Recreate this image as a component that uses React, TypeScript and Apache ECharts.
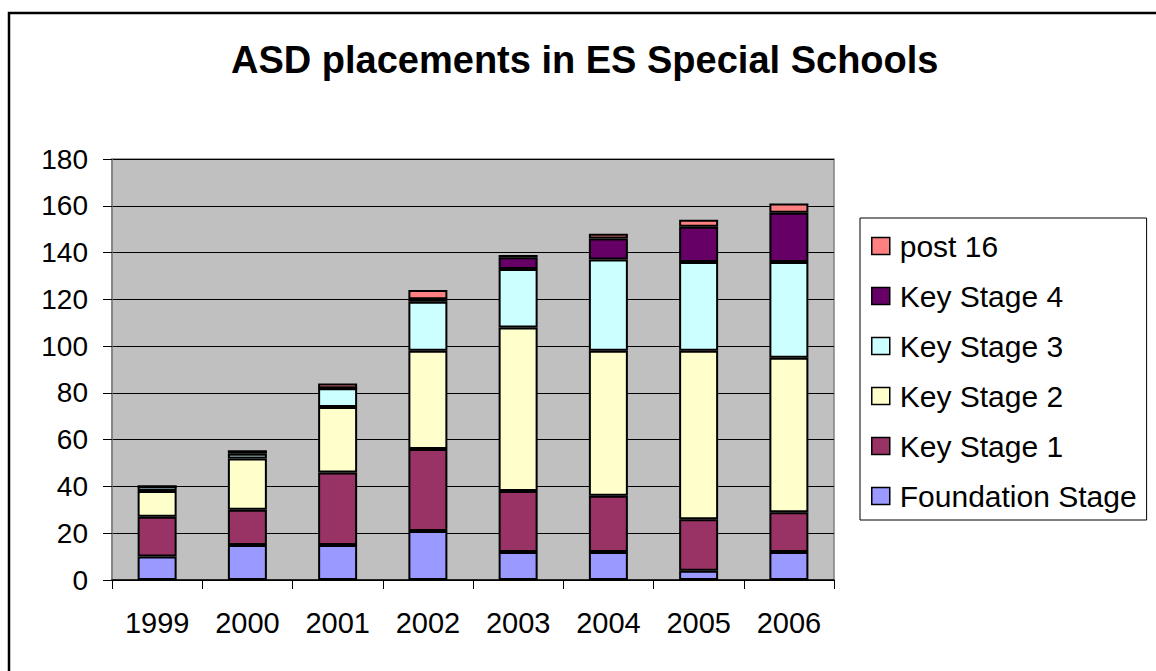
import React, { useEffect, useRef } from "react";
import * as echarts from "echarts";

const years = ["1999", "2000", "2001", "2002", "2003", "2004", "2005", "2006"];
const foundationStage = [10, 15, 15, 21, 12, 12, 4, 12];
const keyStage1 = [17, 15, 31, 35, 26, 24, 22, 17];
const keyStage2 = [11, 22, 28, 42, 70, 62, 72, 66];
const keyStage3 = [2, 2, 8, 21, 25, 39, 38, 41];
const keyStage4 = [0, 1, 0, 1, 5, 9, 15, 21];
const post16 = [0, 0, 2, 4, 1, 2, 3, 4];

const seriesNames = ["Foundation Stage", "Key Stage 1", "Key Stage 2", "Key Stage 3", "Key Stage 4", "post 16"];
const seriesData = [foundationStage, keyStage1, keyStage2, keyStage3, keyStage4, post16];
const seriesColors = ["#9999FF", "#993366", "#FFFFCC", "#CCFFFF", "#660066", "#FF8080"];

const FONT = "'Liberation Sans', Arial, sans-serif";

export default function App() {
  const ref = useRef<HTMLDivElement>(null);
  useEffect(() => {
    if (!ref.current) return;
    const chart = echarts.init(ref.current, null, { renderer: "svg" });
    chart.setOption({
      animation: false,
      backgroundColor: "#FFFFFF",
      textStyle: { fontFamily: FONT },
      title: {
        text: "ASD placements in ES Special Schools",
        left: 231,
        top: 41,
        padding: 0,
        textStyle: { fontFamily: FONT, fontSize: 38, fontWeight: "bold", color: "#000" },
      },
      graphic: [
        {
          type: "rect",
          shape: { x: 9, y: 13, width: 1170, height: 700 },
          style: { fill: "none", stroke: "#000", lineWidth: 2.5 },
          silent: true,
        },
      ],
      legend: {
        orient: "vertical",
        left: 860,
        top: 218,
        data: ["post 16", "Key Stage 4", "Key Stage 3", "Key Stage 2", "Key Stage 1", "Foundation Stage"],
        icon: "rect",
        itemWidth: 18,
        itemHeight: 17,
        itemGap: 20,
        padding: [13, 10, 9, 11],
        borderColor: "#000",
        borderWidth: 1,
        backgroundColor: "#FFFFFF",
        itemStyle: { borderColor: "#000", borderWidth: 1.5 },
        textStyle: { fontFamily: FONT, fontSize: 30, lineHeight: 28, color: "#000", padding: [0, 0, 0, 5] },
      },
      grid: {
        left: 112,
        top: 159,
        width: 722,
        height: 421,
        show: true,
        backgroundColor: "#C0C0C0",
        borderColor: "#808080",
        borderWidth: 1.5,
      },
      xAxis: {
        type: "category",
        data: years,
        boundaryGap: true,
        axisLine: { lineStyle: { color: "#000", width: 1.5 } },
        axisTick: { show: true, length: 9, lineStyle: { color: "#000", width: 1 } },
        axisLabel: { fontFamily: FONT, fontSize: 29, color: "#000", margin: 28 },
      },
      yAxis: {
        type: "value",
        min: 0,
        max: 180,
        interval: 20,
        axisLine: { show: true, lineStyle: { color: "#808080", width: 1.5 } },
        axisTick: { show: true, length: 9, lineStyle: { color: "#000", width: 1 } },
        axisLabel: { fontFamily: FONT, fontSize: 28, color: "#000", margin: 24 },
        splitLine: { show: true, lineStyle: { color: "#000", width: 1 } },
      },
      series: seriesNames.map((name, i) => ({
        name,
        type: "bar",
        stack: "total",
        data: seriesData[i],
        barWidth: 39,
        itemStyle: { color: seriesColors[i], borderColor: "#000", borderWidth: 2 },
      })),
    });
    return () => chart.dispose();
  }, []);
  return (
    <div
      ref={ref}
      style={{ position: "fixed", left: 0, top: 0, width: 1156, height: 671 }}
    />
  );
}
